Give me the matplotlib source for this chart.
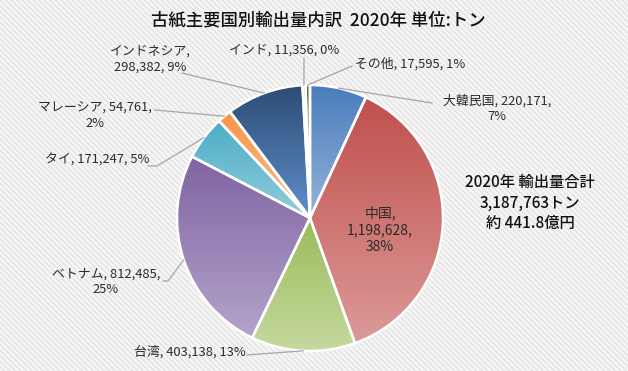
import numpy as np
import matplotlib.pyplot as plt
from matplotlib.patches import Rectangle
from matplotlib.colors import to_rgb

plt.rcParams['font.family'] = ['Noto Sans CJK JP', 'DejaVu Sans']
plt.rcParams['hatch.linewidth'] = 1.0

countries = ['大韓民国', '中国', '台湾', 'ベトナム', 'タイ', 'マレーシア', 'インドネシア', 'インド', 'その他']
volumes = [220171, 1198628, 403138, 812485, 171247, 54761, 298382, 11356, 17595]
top_colors = ['#4a7dbd', '#c0504d', '#9bbb59', '#8064a2', '#4bacc6', '#f79646', '#2c4d75', '#772c2a', '#5f7530']
bottom_colors = ['#95b3d7', '#dc9a98', '#c6d9a0', '#b3a4cb', '#93cddd', '#fac090', '#5f8fcb', '#b06563', '#8fa85c']

W, H = 628, 371
cx, cy, r = 310, 218, 133


def py(y):
    # pixel row (from top) -> data y
    return H - y


fig = plt.figure(figsize=(W / 100, H / 100), dpi=100)
fig.patches.append(Rectangle((0, 0), 1, 1, transform=fig.transFigure, facecolor='#f6f6f6',
                             edgecolor='#e3e3e3', hatch='\\' * 6, linewidth=0, zorder=-10))
ax = fig.add_axes([0, 0, 1, 1])
ax.set_facecolor('none')

total = sum(volumes)
wedges, _ = ax.pie(volumes, startangle=90, counterclock=False, center=(cx, py(cy)), radius=r,
                   wedgeprops=dict(facecolor='none', edgecolor='white', linewidth=1.8))

for w, c1, c2 in zip(wedges, top_colors, bottom_colors):
    w.set_zorder(3)
    th = np.linspace(np.radians(w.theta1), np.radians(w.theta2), 100)
    ys = np.concatenate([[py(cy)], py(cy) + r * np.sin(th)])
    y0, y1 = ys.min(), ys.max()
    t = np.linspace(0, 1, 64)[:, None]
    grad = (1 - t) * np.array(to_rgb(c2)) + t * np.array(to_rgb(c1))
    im = ax.imshow(grad[:, None, :], extent=[cx - r - 2, cx + r + 2, y0, y1], origin='lower',
                   aspect='auto', interpolation='bilinear', zorder=2)
    im.set_clip_path(w)

# label layout: (text centre x, centre y from top, line break style, leader start points)
layout = {
    '大韓民国': (497, 109, 'a', [(432, 103)]),
    '中国': (380, 230, 'inside', None),
    '台湾': (190, 352, 'one', [(247, 355)]),
    'ベトナム': (106, 282, 'a', [(163, 281), (168, 281)]),
    'タイ': (97, 160, 'one', [(148, 166), (157, 166)]),
    'マレーシア': (95, 116, 'a', [(155, 110)]),
    'インドネシア': (150, 59, 'b', [(182, 73)]),
    'インド': (284, 50, 'one', [(304, 58)]),
    'その他': (410, 64, 'one', [(352, 66)]),
}

for w, name, v in zip(wedges, countries, volumes):
    x, y, style, lead = layout[name]
    pct = '{:.0f}%'.format(v / total * 100)
    num = '{:,}'.format(v)
    if style == 'a':
        txt = '{}, {},\n{}'.format(name, num, pct)
    elif style == 'b':
        txt = '{},\n{}, {}'.format(name, num, pct)
    elif style == 'inside':
        txt = '{},\n{},\n{}'.format(name, num, pct)
    else:
        txt = '{}, {}, {}'.format(name, num, pct)
    fs = 10 if style == 'inside' else 9.3
    ax.text(x, py(y), txt, ha='center', va='center', fontsize=fs, color='#2b2b2b',
            linespacing=1.25, zorder=5)
    if lead:
        mid = np.radians((w.theta1 + w.theta2) / 2)
        ex, ey = cx + r * np.cos(mid), py(cy) + r * np.sin(mid)
        xs = [p[0] for p in lead] + [ex]
        ys = [py(p[1]) for p in lead] + [ey]
        ax.plot(xs, ys, color='#a5a5a5', linewidth=0.9, zorder=4)

ax.text(318, py(20), '古紙主要国別輸出量内訳  2020年 単位:トン', ha='center', va='center',
        fontsize=12.5, fontweight='medium', color='#111111')
ax.text(530, py(203), '2020年 輸出量合計\n{:,}トン\n約 441.8億円'.format(total), ha='center',
        va='center', fontsize=11, fontweight='medium', color='#111111', linespacing=1.3)

ax.set_xlim(0, W)
ax.set_ylim(0, H)
ax.set_aspect('auto')
ax.axis('off')

fig.savefig('out.png', dpi=100, facecolor=fig.get_facecolor())
